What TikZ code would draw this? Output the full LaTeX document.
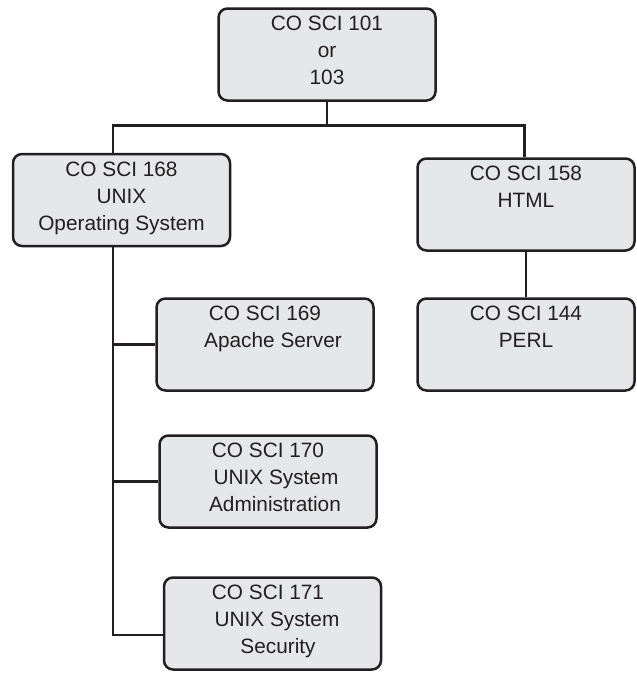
\documentclass[tikz,border=0pt]{standalone}
\usepackage{fontspec}
\setmainfont{Liberation Sans}
\definecolor{boxfill}{RGB}{230,231,232}
\definecolor{ink}{RGB}{35,31,32}
\begin{document}
\begin{tikzpicture}[x=1pt,y=-1pt,
  course/.style={draw=ink, fill=boxfill, line width=2.5pt, rounded corners=9pt,
    minimum width=217pt, minimum height=92pt, inner sep=0pt, align=center,
    text=ink, font={\fontsize{20.8pt}{27pt}\selectfont}},
  link/.style={draw=ink, line width=2.5pt}]
\useasboundingbox (0,0) rectangle (637,673);
\node[course] (c101) at (327,54.5) {CO SCI 101\\or\\103\strut};
\node[course] (c168) at (121.5,200) {CO SCI 168\\UNIX\\Operating System\strut};
\node[course] (c158) at (526,204.5) {CO SCI 158\\HTML\\\strut};
\node[course] (c144) at (526,344.5) {CO SCI 144\\PERL\\\strut};
\node[course] (c169) at (265,344.5) {CO SCI 169\\\hspace*{16pt}Apache Server\\\strut};
\node[course] (c170) at (268,481.5) {CO SCI 170\\\hspace*{16pt}UNIX System\\\hspace*{14pt}Administration\strut};
\node[course] (c171) at (272.5,623.5) {CO SCI 171\hspace*{9pt}\\\hspace*{9pt}UNIX System\\\hspace*{11pt}Security\strut};
\coordinate (jL) at (113,125.5);
\coordinate (jR) at (524.5,125.5);
\coordinate (tB) at (113,635);
\draw[link] (c101.south) -- (c101.south |- jL);
\draw[link] (c168.north -| jL) -- (jL) -- (jR) -- (c158.north -| jR);
\draw[link] (c158.south) -- (c144.north);
\draw[link] (c168.south -| tB) -- (tB) -- (tB -| c171.west);
\draw[link] (c169.west -| tB) -- (c169.west);
\draw[link] (c170.west -| tB) -- (c170.west);
\end{tikzpicture}
\end{document}
